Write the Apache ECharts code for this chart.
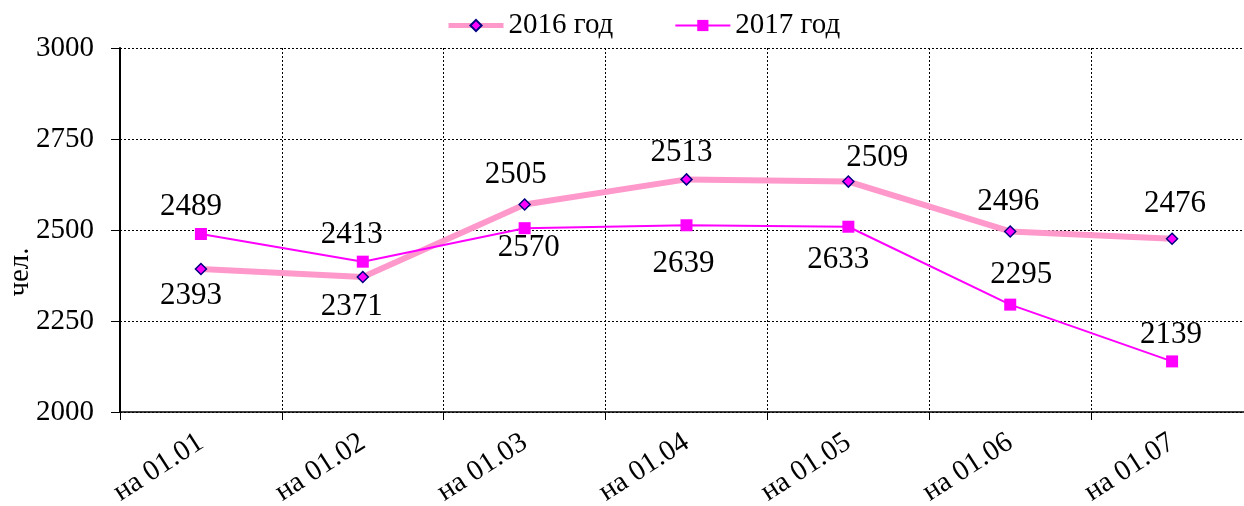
<!DOCTYPE html>
<html>
<head>
<meta charset="utf-8">
<script src="https://cdn.jsdelivr.net/npm/echarts@6/dist/echarts.min.js"></script>
<style>
  html, body { margin: 0; padding: 0; background: #fff; }
  #chart { width: 1244px; height: 506px; }
</style>
</head>
<body>
<div id="chart"></div>
<script>
// категории и значения
var categories = ["на 01.01", "на 01.02", "на 01.03", "на 01.04", "на 01.05", "на 01.06", "на 01.07"];
var values2016 = [2393, 2371, 2570, 2639, 2633, 2496, 2476];
var values2017 = [2489, 2413, 2505, 2513, 2509, 2295, 2139];
var seriesNames = ["2016 год", "2017 год"];
var yMin = 2000, yMax = 3000, yStep = 250;
var unitName = "чел.";

// сдвиг подписей от маркера (px), как в оригинале
var shift2016 = [[-10, 27], [-11, 30], [4, 43], [-3, 84], [-10, 78], [-2, -30], [3, -35]];
var shift2017 = [[-10, -27], [-11, -27], [-9, -53], [-5, -72], [29, -69], [11, -30], [-1, -27]];

var FONT = "Liberation Serif";

function withLabels(values, shifts) {
  return values.map(function (v, i) {
    return { value: v, label: { offset: shifts[i] } };
  });
}

var dotted = { color: "#000", width: 1, type: [2, 2] };

var myChart = echarts.init(document.getElementById("chart"));
myChart.setOption({
  animation: false,
  backgroundColor: "#fff",
  textStyle: { fontFamily: FONT },
  grid: {
    left: 120,
    right: -9,
    top: 48,
    bottom: 94,
    containLabel: false,
    outerBoundsMode: "none"
  },
  legend: {
    data: [
      { name: seriesNames[0], lineStyle: { width: 5 } },
      { name: seriesNames[1], lineStyle: { width: 2 } }
    ],
    top: 6,
    left: 441,
    itemWidth: 55,
    itemHeight: 14,
    itemGap: 61,
    textStyle: { fontFamily: FONT, fontSize: 29, color: "#000" }
  },
  graphic: [{
    type: "text",
    x: 20,
    y: 272,
    rotation: Math.PI / 2,
    style: {
      text: unitName,
      fontFamily: FONT,
      fontSize: 29,
      fill: "#000",
      align: "center",
      verticalAlign: "middle"
    }
  }],
  xAxis: {
    type: "category",
    data: categories,
    boundaryGap: true,
    axisLine: { lineStyle: { color: "#000", width: 1.5 } },
    axisTick: { show: true, length: 8, lineStyle: { color: "#000", width: 1 } },
    axisLabel: {
      interval: 0,
      rotate: 33,
      margin: 28,
      fontFamily: FONT,
      fontSize: 29,
      color: "#000"
    },
    splitLine: { show: true, lineStyle: dotted }
  },
  yAxis: {
    type: "value",
    min: yMin,
    max: yMax,
    interval: yStep,
    axisLine: { show: true, lineStyle: { color: "#000", width: 2 } },
    axisTick: { show: true, length: 9, lineStyle: { color: "#000", width: 1 } },
    axisLabel: {
      margin: 26,
      fontFamily: FONT,
      fontSize: 29,
      color: "#000",
      formatter: function (v) { return String(v); }
    },
    splitLine: { show: true, lineStyle: dotted }
  },
  series: [
    {
      name: seriesNames[0],
      type: "line",
      data: withLabels(values2016, shift2016),
      symbol: "diamond",
      symbolSize: 11,
      z: 3,
      lineStyle: { color: "#FF99CC", width: 6 },
      itemStyle: { color: "#FF00FF", borderColor: "#000080", borderWidth: 1.5 },
      label: {
        show: true,
        position: "inside",
        fontFamily: FONT,
        fontSize: 31,
        color: "#000"
      }
    },
    {
      name: seriesNames[1],
      type: "line",
      data: withLabels(values2017, shift2017),
      symbol: "rect",
      symbolSize: 12,
      z: 4,
      lineStyle: { color: "#FF00FF", width: 2 },
      itemStyle: { color: "#FF00FF", borderColor: "#FF00FF", borderWidth: 0 },
      label: {
        show: true,
        position: "inside",
        fontFamily: FONT,
        fontSize: 31,
        color: "#000"
      }
    }
  ]
});
</script>
</body>
</html>
